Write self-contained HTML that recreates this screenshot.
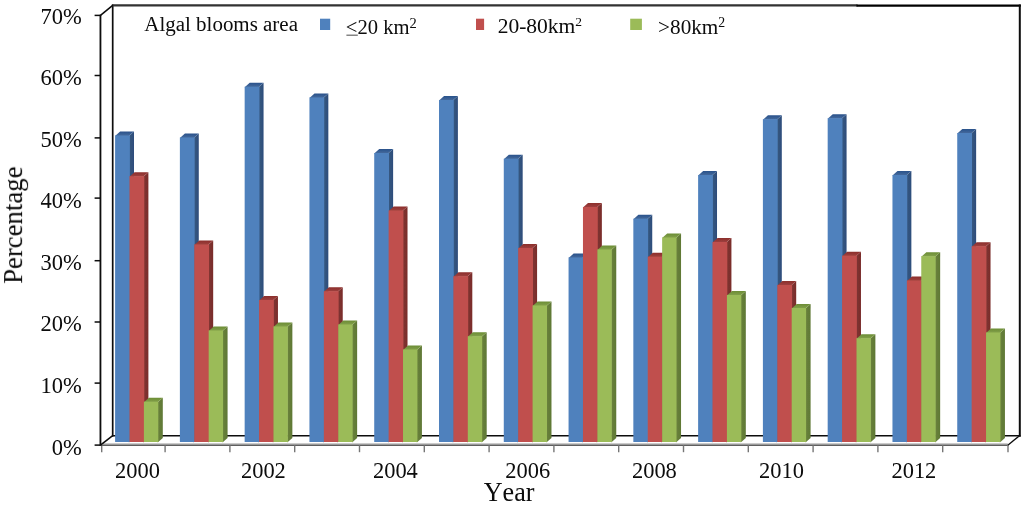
<!DOCTYPE html>
<html><head><meta charset="utf-8"><title>Algal blooms area chart</title>
<style>
html,body{margin:0;padding:0;background:#fff;}
body{width:1024px;height:508px;overflow:hidden;font-family:"Liberation Serif",serif;}
svg{display:block;will-change:transform;transform:translateZ(0);}
text{font-family:"Liberation Serif",serif;fill:#080808;font-kerning:none;}
</style></head><body>
<svg width="1024" height="508" viewBox="0 0 1024 508">
<rect x="0" y="0" width="1024" height="508" fill="#fff"/>
<defs><filter id="soft" x="0" y="0" width="1024" height="508" filterUnits="userSpaceOnUse"><feGaussianBlur stdDeviation="0.4"/></filter></defs>
<g filter="url(#soft)">
<rect x="0" y="0" width="1024" height="508" fill="#fff"/>
<g fill="none" stroke="#0a0a0a" stroke-linecap="square">
<line x1="112.7" y1="435.7" x2="112.7" y2="5.4" stroke-width="1.7"/>
<line x1="111.9" y1="5.3" x2="857.5" y2="5.3" stroke-width="2.2" stroke="#303030" stroke-linecap="butt"/>
<line x1="857.5" y1="5.6" x2="1019.8" y2="5.6" stroke-width="2.1" stroke="#000"/>
<line x1="1019.8" y1="5.4" x2="1019.8" y2="435.7" stroke-width="2"/>
<line x1="112.7" y1="435.7" x2="1019.8" y2="435.7" stroke-width="1.4"/>
</g>
<defs>
<linearGradient id="t0" x1="0" y1="0" x2="0" y2="1"><stop offset="0" stop-color="#2A528B"/><stop offset="1" stop-color="#476C9E"/></linearGradient>
<linearGradient id="s0" x1="0" y1="0" x2="1" y2="0"><stop offset="0" stop-color="#38597F"/><stop offset="1" stop-color="#2D4D7C"/></linearGradient>
<linearGradient id="t1" x1="0" y1="0" x2="0" y2="1"><stop offset="0" stop-color="#8C2E2B"/><stop offset="1" stop-color="#A04341"/></linearGradient>
<linearGradient id="s1" x1="0" y1="0" x2="1" y2="0"><stop offset="0" stop-color="#7E3533"/><stop offset="1" stop-color="#7A2C2A"/></linearGradient>
<linearGradient id="t2" x1="0" y1="0" x2="0" y2="1"><stop offset="0" stop-color="#6C8D35"/><stop offset="1" stop-color="#84A24C"/></linearGradient>
<linearGradient id="s2" x1="0" y1="0" x2="1" y2="0"><stop offset="0" stop-color="#6A823C"/><stop offset="1" stop-color="#5F7835"/></linearGradient>
</defs>
<polygon fill="url(#s0)" points="128.90,136.00 134.00,131.60 134.00,438.10 128.90,442.50"/>
<polygon fill="url(#t0)" points="115.10,136.10 120.15,131.60 134.00,131.60 128.90,136.10"/>
<rect fill="#4F81BD" x="115.10" y="135.50" width="14.80" height="306.50"/>
<polygon fill="url(#s1)" points="143.30,176.70 148.40,172.30 148.40,438.10 143.30,442.50"/>
<polygon fill="url(#t1)" points="129.50,176.80 134.55,172.30 148.40,172.30 143.30,176.80"/>
<rect fill="#C0504D" x="129.50" y="176.20" width="14.80" height="265.80"/>
<polygon fill="url(#s2)" points="157.70,402.20 162.80,397.80 162.80,438.10 157.70,442.50"/>
<polygon fill="url(#t2)" points="143.90,402.30 148.95,397.80 162.80,397.80 157.70,402.30"/>
<rect fill="#9BBB59" x="143.90" y="401.70" width="14.40" height="40.30"/>
<polygon fill="url(#s0)" points="193.68,138.00 198.78,133.60 198.78,438.10 193.68,442.50"/>
<polygon fill="url(#t0)" points="179.88,138.10 184.93,133.60 198.78,133.60 193.68,138.10"/>
<rect fill="#4F81BD" x="179.88" y="137.50" width="14.80" height="304.50"/>
<polygon fill="url(#s1)" points="208.08,245.00 213.18,240.60 213.18,438.10 208.08,442.50"/>
<polygon fill="url(#t1)" points="194.28,245.10 199.33,240.60 213.18,240.60 208.08,245.10"/>
<rect fill="#C0504D" x="194.28" y="244.50" width="14.80" height="197.50"/>
<polygon fill="url(#s2)" points="222.48,331.00 227.58,326.60 227.58,438.10 222.48,442.50"/>
<polygon fill="url(#t2)" points="208.68,331.10 213.73,326.60 227.58,326.60 222.48,331.10"/>
<rect fill="#9BBB59" x="208.68" y="330.50" width="14.40" height="111.50"/>
<polygon fill="url(#s0)" points="258.46,87.20 263.56,82.80 263.56,438.10 258.46,442.50"/>
<polygon fill="url(#t0)" points="244.66,87.30 249.71,82.80 263.56,82.80 258.46,87.30"/>
<rect fill="#4F81BD" x="244.66" y="86.70" width="14.80" height="355.30"/>
<polygon fill="url(#s1)" points="272.86,300.50 277.96,296.10 277.96,438.10 272.86,442.50"/>
<polygon fill="url(#t1)" points="259.06,300.60 264.11,296.10 277.96,296.10 272.86,300.60"/>
<rect fill="#C0504D" x="259.06" y="300.00" width="14.80" height="142.00"/>
<polygon fill="url(#s2)" points="287.26,327.00 292.36,322.60 292.36,438.10 287.26,442.50"/>
<polygon fill="url(#t2)" points="273.46,327.10 278.51,322.60 292.36,322.60 287.26,327.10"/>
<rect fill="#9BBB59" x="273.46" y="326.50" width="14.40" height="115.50"/>
<polygon fill="url(#s0)" points="323.24,98.00 328.34,93.60 328.34,438.10 323.24,442.50"/>
<polygon fill="url(#t0)" points="309.44,98.10 314.49,93.60 328.34,93.60 323.24,98.10"/>
<rect fill="#4F81BD" x="309.44" y="97.50" width="14.80" height="344.50"/>
<polygon fill="url(#s1)" points="337.64,291.70 342.74,287.30 342.74,438.10 337.64,442.50"/>
<polygon fill="url(#t1)" points="323.84,291.80 328.89,287.30 342.74,287.30 337.64,291.80"/>
<rect fill="#C0504D" x="323.84" y="291.20" width="14.80" height="150.80"/>
<polygon fill="url(#s2)" points="352.04,325.00 357.14,320.60 357.14,438.10 352.04,442.50"/>
<polygon fill="url(#t2)" points="338.24,325.10 343.29,320.60 357.14,320.60 352.04,325.10"/>
<rect fill="#9BBB59" x="338.24" y="324.50" width="14.40" height="117.50"/>
<polygon fill="url(#s0)" points="388.02,153.50 393.12,149.10 393.12,438.10 388.02,442.50"/>
<polygon fill="url(#t0)" points="374.22,153.60 379.27,149.10 393.12,149.10 388.02,153.60"/>
<rect fill="#4F81BD" x="374.22" y="153.00" width="14.80" height="289.00"/>
<polygon fill="url(#s1)" points="402.42,211.00 407.52,206.60 407.52,438.10 402.42,442.50"/>
<polygon fill="url(#t1)" points="388.62,211.10 393.67,206.60 407.52,206.60 402.42,211.10"/>
<rect fill="#C0504D" x="388.62" y="210.50" width="14.80" height="231.50"/>
<polygon fill="url(#s2)" points="416.82,350.00 421.92,345.60 421.92,438.10 416.82,442.50"/>
<polygon fill="url(#t2)" points="403.02,350.10 408.07,345.60 421.92,345.60 416.82,350.10"/>
<rect fill="#9BBB59" x="403.02" y="349.50" width="14.40" height="92.50"/>
<polygon fill="url(#s0)" points="452.80,100.50 457.90,96.10 457.90,438.10 452.80,442.50"/>
<polygon fill="url(#t0)" points="439.00,100.60 444.05,96.10 457.90,96.10 452.80,100.60"/>
<rect fill="#4F81BD" x="439.00" y="100.00" width="14.80" height="342.00"/>
<polygon fill="url(#s1)" points="467.20,276.70 472.30,272.30 472.30,438.10 467.20,442.50"/>
<polygon fill="url(#t1)" points="453.40,276.80 458.45,272.30 472.30,272.30 467.20,276.80"/>
<rect fill="#C0504D" x="453.40" y="276.20" width="14.80" height="165.80"/>
<polygon fill="url(#s2)" points="481.60,336.70 486.70,332.30 486.70,438.10 481.60,442.50"/>
<polygon fill="url(#t2)" points="467.80,336.80 472.85,332.30 486.70,332.30 481.60,336.80"/>
<rect fill="#9BBB59" x="467.80" y="336.20" width="14.40" height="105.80"/>
<polygon fill="url(#s0)" points="517.58,159.20 522.68,154.80 522.68,438.10 517.58,442.50"/>
<polygon fill="url(#t0)" points="503.78,159.30 508.83,154.80 522.68,154.80 517.58,159.30"/>
<rect fill="#4F81BD" x="503.78" y="158.70" width="14.80" height="283.30"/>
<polygon fill="url(#s1)" points="531.98,248.50 537.08,244.10 537.08,438.10 531.98,442.50"/>
<polygon fill="url(#t1)" points="518.18,248.60 523.23,244.10 537.08,244.10 531.98,248.60"/>
<rect fill="#C0504D" x="518.18" y="248.00" width="14.80" height="194.00"/>
<polygon fill="url(#s2)" points="546.38,306.00 551.48,301.60 551.48,438.10 546.38,442.50"/>
<polygon fill="url(#t2)" points="532.58,306.10 537.63,301.60 551.48,301.60 546.38,306.10"/>
<rect fill="#9BBB59" x="532.58" y="305.50" width="14.40" height="136.50"/>
<polygon fill="url(#s0)" points="582.36,258.00 587.46,253.60 587.46,438.10 582.36,442.50"/>
<polygon fill="url(#t0)" points="568.56,258.10 573.61,253.60 587.46,253.60 582.36,258.10"/>
<rect fill="#4F81BD" x="568.56" y="257.50" width="14.80" height="184.50"/>
<polygon fill="url(#s1)" points="596.76,207.50 601.86,203.10 601.86,438.10 596.76,442.50"/>
<polygon fill="url(#t1)" points="582.96,207.60 588.01,203.10 601.86,203.10 596.76,207.60"/>
<rect fill="#C0504D" x="582.96" y="207.00" width="14.80" height="235.00"/>
<polygon fill="url(#s2)" points="611.16,250.00 616.26,245.60 616.26,438.10 611.16,442.50"/>
<polygon fill="url(#t2)" points="597.36,250.10 602.41,245.60 616.26,245.60 611.16,250.10"/>
<rect fill="#9BBB59" x="597.36" y="249.50" width="14.40" height="192.50"/>
<polygon fill="url(#s0)" points="647.14,219.20 652.24,214.80 652.24,438.10 647.14,442.50"/>
<polygon fill="url(#t0)" points="633.34,219.30 638.39,214.80 652.24,214.80 647.14,219.30"/>
<rect fill="#4F81BD" x="633.34" y="218.70" width="14.80" height="223.30"/>
<polygon fill="url(#s1)" points="661.54,257.20 666.64,252.80 666.64,438.10 661.54,442.50"/>
<polygon fill="url(#t1)" points="647.74,257.30 652.79,252.80 666.64,252.80 661.54,257.30"/>
<rect fill="#C0504D" x="647.74" y="256.70" width="14.80" height="185.30"/>
<polygon fill="url(#s2)" points="675.94,238.00 681.04,233.60 681.04,438.10 675.94,442.50"/>
<polygon fill="url(#t2)" points="662.14,238.10 667.19,233.60 681.04,233.60 675.94,238.10"/>
<rect fill="#9BBB59" x="662.14" y="237.50" width="14.40" height="204.50"/>
<polygon fill="url(#s0)" points="711.92,175.50 717.02,171.10 717.02,438.10 711.92,442.50"/>
<polygon fill="url(#t0)" points="698.12,175.60 703.17,171.10 717.02,171.10 711.92,175.60"/>
<rect fill="#4F81BD" x="698.12" y="175.00" width="14.80" height="267.00"/>
<polygon fill="url(#s1)" points="726.32,242.50 731.42,238.10 731.42,438.10 726.32,442.50"/>
<polygon fill="url(#t1)" points="712.52,242.60 717.57,238.10 731.42,238.10 726.32,242.60"/>
<rect fill="#C0504D" x="712.52" y="242.00" width="14.80" height="200.00"/>
<polygon fill="url(#s2)" points="740.72,295.50 745.82,291.10 745.82,438.10 740.72,442.50"/>
<polygon fill="url(#t2)" points="726.92,295.60 731.97,291.10 745.82,291.10 740.72,295.60"/>
<rect fill="#9BBB59" x="726.92" y="295.00" width="14.40" height="147.00"/>
<polygon fill="url(#s0)" points="776.70,119.70 781.80,115.30 781.80,438.10 776.70,442.50"/>
<polygon fill="url(#t0)" points="762.90,119.80 767.95,115.30 781.80,115.30 776.70,119.80"/>
<rect fill="#4F81BD" x="762.90" y="119.20" width="14.80" height="322.80"/>
<polygon fill="url(#s1)" points="791.10,285.50 796.20,281.10 796.20,438.10 791.10,442.50"/>
<polygon fill="url(#t1)" points="777.30,285.60 782.35,281.10 796.20,281.10 791.10,285.60"/>
<rect fill="#C0504D" x="777.30" y="285.00" width="14.80" height="157.00"/>
<polygon fill="url(#s2)" points="805.50,308.50 810.60,304.10 810.60,438.10 805.50,442.50"/>
<polygon fill="url(#t2)" points="791.70,308.60 796.75,304.10 810.60,304.10 805.50,308.60"/>
<rect fill="#9BBB59" x="791.70" y="308.00" width="14.40" height="134.00"/>
<polygon fill="url(#s0)" points="841.48,118.70 846.58,114.30 846.58,438.10 841.48,442.50"/>
<polygon fill="url(#t0)" points="827.68,118.80 832.73,114.30 846.58,114.30 841.48,118.80"/>
<rect fill="#4F81BD" x="827.68" y="118.20" width="14.80" height="323.80"/>
<polygon fill="url(#s1)" points="855.88,256.20 860.98,251.80 860.98,438.10 855.88,442.50"/>
<polygon fill="url(#t1)" points="842.08,256.30 847.13,251.80 860.98,251.80 855.88,256.30"/>
<rect fill="#C0504D" x="842.08" y="255.70" width="14.80" height="186.30"/>
<polygon fill="url(#s2)" points="870.28,338.70 875.38,334.30 875.38,438.10 870.28,442.50"/>
<polygon fill="url(#t2)" points="856.48,338.80 861.53,334.30 875.38,334.30 870.28,338.80"/>
<rect fill="#9BBB59" x="856.48" y="338.20" width="14.40" height="103.80"/>
<polygon fill="url(#s0)" points="906.26,175.50 911.36,171.10 911.36,438.10 906.26,442.50"/>
<polygon fill="url(#t0)" points="892.46,175.60 897.51,171.10 911.36,171.10 906.26,175.60"/>
<rect fill="#4F81BD" x="892.46" y="175.00" width="14.80" height="267.00"/>
<polygon fill="url(#s1)" points="920.66,281.00 925.76,276.60 925.76,438.10 920.66,442.50"/>
<polygon fill="url(#t1)" points="906.86,281.10 911.91,276.60 925.76,276.60 920.66,281.10"/>
<rect fill="#C0504D" x="906.86" y="280.50" width="14.80" height="161.50"/>
<polygon fill="url(#s2)" points="935.06,256.70 940.16,252.30 940.16,438.10 935.06,442.50"/>
<polygon fill="url(#t2)" points="921.26,256.80 926.31,252.30 940.16,252.30 935.06,256.80"/>
<rect fill="#9BBB59" x="921.26" y="256.20" width="14.40" height="185.80"/>
<polygon fill="url(#s0)" points="971.04,133.50 976.14,129.10 976.14,438.10 971.04,442.50"/>
<polygon fill="url(#t0)" points="957.24,133.60 962.29,129.10 976.14,129.10 971.04,133.60"/>
<rect fill="#4F81BD" x="957.24" y="133.00" width="14.80" height="309.00"/>
<polygon fill="url(#s1)" points="985.44,246.70 990.54,242.30 990.54,438.10 985.44,442.50"/>
<polygon fill="url(#t1)" points="971.64,246.80 976.69,242.30 990.54,242.30 985.44,246.80"/>
<rect fill="#C0504D" x="971.64" y="246.20" width="14.80" height="195.80"/>
<polygon fill="url(#s2)" points="999.84,333.00 1004.94,328.60 1004.94,438.10 999.84,442.50"/>
<polygon fill="url(#t2)" points="986.04,333.10 991.09,328.60 1004.94,328.60 999.84,333.10"/>
<rect fill="#9BBB59" x="986.04" y="332.50" width="14.40" height="109.50"/>
<rect x="103.0" y="443.1" width="904.8" height="1.6" fill="#C6C6C6"/>
<g fill="none" stroke="#5E5E5E">
<line x1="100.5" y1="445.2" x2="1007.8" y2="445.2" stroke-width="1.4"/>
<line x1="101.70" y1="445.2" x2="101.70" y2="452.2" stroke="#767676" stroke-width="1.4"/>
<line x1="165.10" y1="445.2" x2="165.10" y2="452.2" stroke="#767676" stroke-width="1.4"/>
<line x1="229.90" y1="445.2" x2="229.90" y2="452.2" stroke="#767676" stroke-width="1.4"/>
<line x1="294.70" y1="445.2" x2="294.70" y2="452.2" stroke="#767676" stroke-width="1.4"/>
<line x1="359.50" y1="445.2" x2="359.50" y2="452.2" stroke="#767676" stroke-width="1.4"/>
<line x1="424.30" y1="445.2" x2="424.30" y2="452.2" stroke="#767676" stroke-width="1.4"/>
<line x1="489.10" y1="445.2" x2="489.10" y2="452.2" stroke="#767676" stroke-width="1.4"/>
<line x1="553.90" y1="445.2" x2="553.90" y2="452.2" stroke="#767676" stroke-width="1.4"/>
<line x1="618.70" y1="445.2" x2="618.70" y2="452.2" stroke="#767676" stroke-width="1.4"/>
<line x1="683.50" y1="445.2" x2="683.50" y2="452.2" stroke="#767676" stroke-width="1.4"/>
<line x1="748.30" y1="445.2" x2="748.30" y2="452.2" stroke="#767676" stroke-width="1.4"/>
<line x1="813.10" y1="445.2" x2="813.10" y2="452.2" stroke="#767676" stroke-width="1.4"/>
<line x1="877.90" y1="445.2" x2="877.90" y2="452.2" stroke="#767676" stroke-width="1.4"/>
<line x1="942.70" y1="445.2" x2="942.70" y2="452.2" stroke="#767676" stroke-width="1.4"/>
<line x1="1008.00" y1="445.2" x2="1008.00" y2="452.2" stroke="#767676" stroke-width="1.4"/>
</g>
<g fill="none" stroke="#0a0a0a" stroke-width="1.5" stroke-linecap="butt">
<line x1="100.45" y1="14.8" x2="100.45" y2="445.8" stroke-width="1.8"/>
<line x1="100.45" y1="15.4" x2="112.7" y2="5.4"/>
<line x1="100.45" y1="445.2" x2="112.7" y2="435.7"/>
<line x1="1007.8" y1="445.2" x2="1018.8" y2="436.3" stroke-width="1.3"/>
<line x1="94.6" y1="445.10" x2="100.45" y2="445.10"/>
<line x1="94.6" y1="383.10" x2="100.45" y2="383.10"/>
<line x1="94.6" y1="322.00" x2="100.45" y2="322.00"/>
<line x1="94.6" y1="260.70" x2="100.45" y2="260.70"/>
<line x1="94.6" y1="198.10" x2="100.45" y2="198.10"/>
<line x1="94.6" y1="137.90" x2="100.45" y2="137.90"/>
<line x1="94.6" y1="75.50" x2="100.45" y2="75.50"/>
<line x1="94.6" y1="15.40" x2="100.45" y2="15.40"/>
</g>
<text transform="translate(81.70,454.50) scale(0.9510,1)" font-size="23.70" text-anchor="end">0%</text>
<text transform="translate(81.70,392.95) scale(0.9510,1)" font-size="23.70" text-anchor="end">10%</text>
<text transform="translate(81.70,331.40) scale(0.9510,1)" font-size="23.70" text-anchor="end">20%</text>
<text transform="translate(81.70,269.85) scale(0.9510,1)" font-size="23.70" text-anchor="end">30%</text>
<text transform="translate(81.70,208.30) scale(0.9510,1)" font-size="23.70" text-anchor="end">40%</text>
<text transform="translate(81.70,146.75) scale(0.9510,1)" font-size="23.70" text-anchor="end">50%</text>
<text transform="translate(81.70,85.20) scale(0.9510,1)" font-size="23.70" text-anchor="end">60%</text>
<text transform="translate(81.70,23.65) scale(0.9510,1)" font-size="23.70" text-anchor="end">70%</text>
<text transform="translate(137.50,477.50) scale(0.9470,1)" font-size="23.70" text-anchor="middle">2000</text>
<text transform="translate(263.40,477.50) scale(0.9470,1)" font-size="23.70" text-anchor="middle">2002</text>
<text transform="translate(395.40,477.50) scale(0.9470,1)" font-size="23.70" text-anchor="middle">2004</text>
<text transform="translate(527.70,477.50) scale(0.9470,1)" font-size="23.70" text-anchor="middle">2006</text>
<text transform="translate(654.40,477.50) scale(0.9470,1)" font-size="23.70" text-anchor="middle">2008</text>
<text transform="translate(781.50,477.50) scale(0.9470,1)" font-size="23.70" text-anchor="middle">2010</text>
<text transform="translate(913.90,477.50) scale(0.9470,1)" font-size="23.70" text-anchor="middle">2012</text>
<text transform="translate(483.70,500.70) scale(0.9850,1)" font-size="26.50" text-anchor="start">Year</text>
<text transform="translate(22.1,225.2) rotate(-90) scale(1.01,1)" font-size="26.5" text-anchor="middle">Percentage</text>
<text transform="translate(144.30,31.00) scale(1.0080,1)" font-size="20.80" text-anchor="start">Algal blooms area</text>
<rect x="320" y="18.7" width="10.2" height="11.3" fill="#4F81BD"/>
<text transform="translate(345.80,33.50) scale(1.0000,1)" font-size="20.60" text-anchor="start">&lt;20 km<tspan font-size="14.5" dy="-5.6">2</tspan></text>
<line x1="346.4" y1="35.2" x2="357.8" y2="35.2" stroke="#666" stroke-width="1.2"/>
<rect x="476" y="18.7" width="8.1" height="11.3" fill="#C0504D"/>
<text transform="translate(497.70,32.50) scale(1.0000,1)" font-size="21.50" text-anchor="start">20-80km<tspan font-size="13.5" dy="-6.5">2</tspan></text>
<rect x="630.2" y="18.7" width="11.7" height="11.3" fill="#9BBB59"/>
<text transform="translate(658.10,33.60) scale(1.0000,1)" font-size="21.20" text-anchor="start">&gt;80km<tspan font-size="13.8" dy="-6.3">2</tspan></text>
</g>
</svg>
</body></html>
